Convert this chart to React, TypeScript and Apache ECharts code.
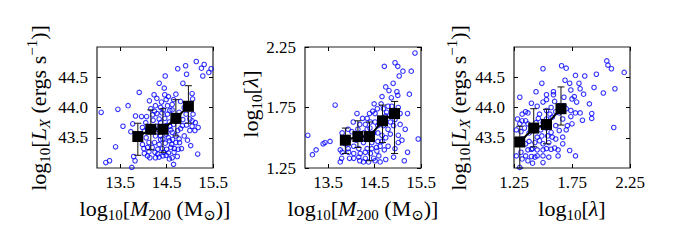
import React, { useEffect, useRef } from 'react';
import * as echarts from 'echarts';

// Panel 1: log10 M200 vs log10 LX
const p1M = [15.14,15.31,15.25,15.46,15.41,14.91,14.74,14.93,15.28,14.47,
  14.34,14.85,13.91,14.45,14.23,14.29,14.70,14.46,14.54,15.05,
  15.06,13.67,13.45,13.09,14.49,14.65,14.39,14.37,14.43,14.16,
  14.20,14.40,14.52,14.62,14.80,14.88,15.00,15.07,13.83,13.96,
  14.07,14.29,14.34,14.46,14.56,14.65,14.21,14.05,13.56,13.77,
  13.98,14.02,13.93,13.73,14.06,14.26,14.37,14.49,14.62,14.74,
  14.80,14.93,15.05,15.11,15.00,14.88,14.77,14.95,14.70,14.56,
  14.47,14.34,14.24,14.12,13.98,14.01,14.09,14.19,14.31,14.41,
  14.50,14.59,14.67,14.75,14.82,14.61,13.40,14.02,14.09,14.14,
  14.26,14.31,14.42,14.49,14.62,14.73,15.17,13.79,13.82,13.19,
  13.27,13.75,14.65,14.44,14.54,14.37,14.54,14.63,14.85,14.92,
  14.74,14.57,14.29,15.05,14.77,14.62,14.52,14.26,14.13,14.42,
  14.20,14.31,14.09,14.70,14.59,14.49,14.37,14.24,14.57,14.72,
  14.84,14.78,14.34,14.56,14.25,14.12,14.66,15.02,15.18,15.12];
const p1L = [44.76,44.71,44.65,44.64,44.58,44.69,44.64,44.55,44.52,44.52,
  44.40,44.40,44.25,44.32,44.21,44.15,44.22,44.21,44.18,44.23,
  44.14,44.03,43.97,43.92,44.13,44.13,44.09,44.00,43.96,43.98,
  43.88,43.91,43.89,43.96,44.10,44.00,43.81,43.89,43.86,43.85,
  43.85,43.90,43.81,43.82,43.76,43.72,43.79,43.75,43.69,43.73,
  43.67,43.61,43.56,43.60,43.50,43.53,43.53,43.56,43.59,43.62,
  43.65,43.71,43.69,43.62,43.62,43.53,43.48,43.46,43.42,43.45,
  43.41,43.39,43.42,43.42,43.39,43.32,43.34,43.34,43.31,43.32,
  43.31,43.34,43.32,43.31,43.32,43.39,43.35,43.24,43.20,43.17,
  43.17,43.23,43.20,43.21,43.17,43.19,43.23,43.19,43.12,43.09,
  43.12,43.01,43.06,43.26,43.25,43.47,43.50,43.47,43.80,43.89,
  43.78,43.69,43.69,43.78,43.92,44.05,44.03,44.03,44.11,43.48,
  43.62,43.64,43.64,43.53,43.63,43.70,43.75,43.94,43.95,43.85,
  43.70,43.42,43.18,43.15,43.26,43.27,43.26,43.37,43.67,43.75];

// Panel 2: log10 M200 vs log10 lambda
const p2M = [15.37,14.71,14.94,15.00,15.11,15.29,15.03,14.90,14.74,14.81,
  14.98,15.25,14.66,14.86,15.00,13.65,14.49,14.64,14.56,14.46,
  14.79,15.01,15.05,15.21,14.12,14.39,14.34,14.24,14.04,14.18,
  14.30,14.51,14.79,14.91,15.05,15.16,13.93,14.01,14.26,14.57,
  14.66,14.74,14.84,15.01,15.09,13.06,13.54,13.43,13.39,13.24,
  13.16,13.76,13.93,14.05,14.16,14.26,14.34,14.44,14.57,14.62,
  14.71,14.79,14.55,14.41,14.30,14.19,14.05,13.94,13.80,13.96,
  14.05,14.18,14.30,14.48,14.59,14.74,14.91,15.14,15.21,15.44,
  13.79,13.76,14.54,14.39,14.48,14.40,14.34,14.14,14.69,14.64,
  14.74,14.87,14.94,14.84,14.41,14.57,14.23,14.10,14.66,14.51,
  14.62,14.37,14.26,13.87,13.94,14.44,14.16,14.94,15.01,14.09,
  13.80,14.69,14.87,14.51,14.76];
const p2Lam = [2.20,2.09,2.12,2.09,2.05,2.05,2.01,1.95,1.92,1.89,
  1.88,1.86,1.84,1.83,1.85,1.77,1.78,1.78,1.74,1.72,
  1.76,1.75,1.70,1.70,1.70,1.70,1.66,1.66,1.63,1.61,
  1.61,1.63,1.57,1.60,1.61,1.57,1.57,1.55,1.54,1.54,
  1.52,1.50,1.53,1.52,1.48,1.52,1.47,1.46,1.45,1.40,
  1.36,1.40,1.41,1.43,1.41,1.46,1.41,1.46,1.47,1.43,
  1.40,1.43,1.39,1.37,1.38,1.37,1.37,1.38,1.38,1.33,
  1.33,1.31,1.33,1.33,1.35,1.32,1.34,1.31,1.38,1.49,
  1.33,1.30,1.42,1.50,1.54,1.58,1.57,1.57,1.60,1.65,
  1.68,1.70,1.65,1.63,1.63,1.60,1.49,1.48,1.47,1.31,
  1.30,1.30,1.30,1.45,1.48,1.41,1.34,1.41,1.46,1.53,
  1.54,1.74,1.76,1.70,1.71];

// Panel 3: log10 lambda vs log10 LX
const p3Lam = [2.05,2.06,2.09,2.20,1.66,1.70,1.50,1.96,1.86,1.78,
  1.69,1.49,1.73,1.81,1.94,2.02,2.12,1.44,1.53,1.59,
  1.74,1.82,1.85,1.30,1.40,1.45,1.50,1.53,1.60,1.68,
  1.75,1.77,1.79,1.90,1.35,1.32,1.37,1.47,1.53,1.57,
  1.61,1.70,1.74,1.82,1.92,1.92,1.84,1.74,1.67,1.58,
  1.50,1.32,1.30,1.37,1.34,1.31,1.27,1.38,1.48,1.53,
  1.61,1.71,1.75,1.57,1.64,1.70,2.11,1.45,1.49,1.58,
  1.61,1.38,1.35,1.43,1.50,1.55,1.67,1.41,1.37,1.45,
  1.50,1.53,1.63,1.73,1.31,1.35,1.40,1.45,1.50,1.55,
  1.63,1.78,1.32,1.37,1.41,1.30,1.43,1.27,1.32,1.28,
  1.40,1.44,1.55,1.53,1.64,1.68,1.64,1.56,1.78,1.67,
  1.54,1.47,1.60,1.35,1.28,1.40,1.50,1.57,1.46,1.59];
const p3L = [44.77,44.70,44.64,44.58,44.69,44.65,44.64,44.55,44.52,44.53,
  44.45,44.40,44.40,44.40,44.33,44.24,44.31,44.26,44.21,44.26,
  44.29,44.31,44.22,44.17,44.07,44.02,44.09,44.13,44.10,44.17,
  44.14,44.18,44.09,44.06,43.93,43.89,43.91,43.89,43.95,44.00,
  43.93,43.98,43.95,43.91,43.90,43.82,43.79,43.85,43.81,43.84,
  43.75,43.78,43.73,43.73,43.66,43.60,43.63,43.58,43.63,43.66,
  43.70,43.70,43.73,43.59,43.62,43.63,43.67,43.51,43.53,43.51,
  43.48,43.44,43.40,43.42,43.40,43.42,43.40,43.32,43.30,43.30,
  43.30,43.32,43.30,43.29,43.26,43.20,43.19,43.20,43.20,43.18,
  43.20,43.20,43.15,43.12,43.08,43.01,43.18,43.20,43.48,43.42,
  43.67,43.75,43.77,43.81,43.91,44.03,44.03,43.89,43.91,43.51,
  43.53,43.45,43.33,43.78,43.81,43.31,43.09,43.31,43.82,44.21];

// Binned medians with error bars
const b1M = [13.88, 14.16, 14.42, 14.70, 14.97];
const b1L = [43.52, 43.64, 43.64, 43.82, 44.02];
const b1Lo = [43.21, 43.30, 43.26, 43.53, 43.74];
const b1Hi = [43.74, 43.96, 43.98, 44.13, 44.36];

const b2M = [13.87, 14.14, 14.39, 14.67, 14.93];
const b2Lam = [1.48, 1.51, 1.51, 1.64, 1.70];
const b2Lo = [1.37, 1.42, 1.31, 1.46, 1.37];
const b2Hi = [1.58, 1.64, 1.63, 1.77, 1.80];

const b3Lam = [1.30, 1.42, 1.53, 1.655];
const b3L = [43.43, 43.66, 43.72, 43.98];
const b3Lo = [43.0, 43.35, 43.40, 43.71];
const b3Hi = [43.69, 43.98, 43.97, 44.34];

// Axis tick values
const massTicks = [13.5, 14.5, 15.5];
const lxTicks = [43.5, 44.0, 44.5];
const lamTicks = [1.25, 1.75, 2.25];

const FONT = '"Liberation Serif", "DejaVu Serif", "Times New Roman", serif';

const zip = (a: number[], b: number[]) => a.map((v, i) => [v, b[i]]);
const zip3 = (a: number[], b: number[], c: number[]) => a.map((v, i) => [v, b[i], c[i]]);

const GRIDS = [
  { left: 97, top: 47, width: 116, height: 121 },
  { left: 305, top: 47, width: 116, height: 121 },
  { left: 514, top: 47, width: 116, height: 121 },
];

function axis(kind: 'x' | 'y', gridIndex: number, primary: boolean, min: number, max: number, ticks: number[], digits: number) {
  return {
    type: 'value',
    gridIndex,
    position: kind === 'x' ? (primary ? 'bottom' : 'top') : (primary ? 'left' : 'right'),
    min,
    max,
    axisLine: { show: false },
    splitLine: { show: false },
    axisTick: { show: true, inside: true, length: 4, customValues: ticks, lineStyle: { color: '#000', width: 1 } },
    axisLabel: {
      show: primary,
      customValues: ticks,
      formatter: (v: number) => v.toFixed(digits),
      fontFamily: FONT,
      fontSize: 17,
      color: '#000',
      margin: kind === 'x' ? 6 : 9,
    },
  };
}

const errRender = (params: any, api: any) => {
  const x = api.value(0);
  const lo = api.coord([x, api.value(1)]);
  const hi = api.coord([x, api.value(2)]);
  const w = 3.5;
  const st = { stroke: '#111', lineWidth: 1 };
  return {
    type: 'group',
    children: [
      { type: 'line', shape: { x1: lo[0], y1: lo[1], x2: hi[0], y2: hi[1] }, style: st },
      { type: 'line', shape: { x1: lo[0] - w, y1: lo[1], x2: lo[0] + w, y2: lo[1] }, style: st },
      { type: 'line', shape: { x1: hi[0] - w, y1: hi[1], x2: hi[0] + w, y2: hi[1] }, style: st },
    ],
  };
};

function panelSeries(i: number, sx: number[], sy: number[], bx: number[], by: number[], blo: number[], bhi: number[]) {
  return [
    {
      type: 'scatter', xAxisIndex: 2 * i, yAxisIndex: 2 * i, data: zip(sx, sy),
      symbol: 'circle', symbolSize: 4.5,
      itemStyle: { color: 'rgba(0,0,0,0)', borderColor: '#0000ff', borderWidth: 1.1 },
      silent: true, z: 2,
    },
    {
      type: 'custom', xAxisIndex: 2 * i, yAxisIndex: 2 * i, data: zip3(bx, blo, bhi),
      renderItem: errRender, encode: { x: 0, y: [1, 2] }, z: 3, silent: true,
    },
    {
      type: 'line', xAxisIndex: 2 * i, yAxisIndex: 2 * i, data: zip(bx, by),
      symbol: 'rect', symbolSize: 11,
      itemStyle: { color: '#000' }, lineStyle: { color: '#000', width: 2 }, z: 4, silent: true,
    },
  ];
}

const rich = {
  n: { fontFamily: FONT, fontSize: 22, color: '#000', lineHeight: 28 },
  i: { fontFamily: FONT, fontSize: 22, fontStyle: 'italic', color: '#000', lineHeight: 28 },
  s: { fontFamily: FONT, fontSize: 15, color: '#000', verticalAlign: 'bottom', lineHeight: 17 },
  si: { fontFamily: FONT, fontSize: 15, fontStyle: 'italic', color: '#000', verticalAlign: 'bottom', lineHeight: 17 },
  sup: { fontFamily: FONT, fontSize: 15, color: '#000', verticalAlign: 'top', lineHeight: 15 },
};

const massTitle = '{n|log}{s|10}{n|[}{i|M}{s|200}{n| (M}{s|⊙}{n|)]}';
const lxTitle = '{n|log}{s|10}{n|[}{i|L}{si|X}{n| (ergs s}{sup|−1}{n|)]}';
const lamTitle = '{n|log}{s|10}{n|[}{i|λ}{n|]}';

function title(text: string, x: number, y: number, rotate: boolean) {
  return {
    type: 'text', x, y, rotation: rotate ? Math.PI / 2 : 0, silent: true,
    style: { text, rich, align: 'center', verticalAlign: 'middle', textAlign: 'center', textVerticalAlign: 'middle', fill: '#000', fontFamily: FONT, fontSize: 22 },
  };
}

export default function App() {
  const ref = useRef<HTMLDivElement>(null);
  useEffect(() => {
    const chart = echarts.init(ref.current!, null, { renderer: 'svg' });
    const option: any = {
      animation: false,
      backgroundColor: '#fff',
      grid: GRIDS.map((g) => ({ ...g, show: true, borderColor: '#222', borderWidth: 1.2, backgroundColor: 'transparent' })),
      xAxis: [
        axis('x', 0, true, 13.0, 15.5, massTicks, 1), axis('x', 0, false, 13.0, 15.5, massTicks, 1),
        axis('x', 1, true, 13.0, 15.5, massTicks, 1), axis('x', 1, false, 13.0, 15.5, massTicks, 1),
        axis('x', 2, true, 1.25, 2.25, lamTicks, 2), axis('x', 2, false, 1.25, 2.25, lamTicks, 2),
      ],
      yAxis: [
        axis('y', 0, true, 43.0, 45.0, lxTicks, 1), axis('y', 0, false, 43.0, 45.0, lxTicks, 1),
        axis('y', 1, true, 1.25, 2.25, lamTicks, 2), axis('y', 1, false, 1.25, 2.25, lamTicks, 2),
        axis('y', 2, true, 43.0, 45.0, lxTicks, 1), axis('y', 2, false, 43.0, 45.0, lxTicks, 1),
      ],
      series: [
        ...panelSeries(0, p1M, p1L, b1M, b1L, b1Lo, b1Hi),
        ...panelSeries(1, p2M, p2Lam, b2M, b2Lam, b2Lo, b2Hi),
        ...panelSeries(2, p3Lam, p3L, b3Lam, b3L, b3Lo, b3Hi),
      ],
      graphic: [
        title(massTitle, 155, 208, false),
        title(lxTitle, 38, 108, true),
        title(massTitle, 363, 208, false),
        title(lamTitle, 250, 104, true),
        title(lamTitle, 572, 208, false),
        title(lxTitle, 458, 108, true),
      ],
    };
    chart.setOption(option);
    return () => chart.dispose();
  }, []);
  return <div ref={ref} style={{ position: 'absolute', left: 0, top: 0, width: 687, height: 246 }} />;
}
